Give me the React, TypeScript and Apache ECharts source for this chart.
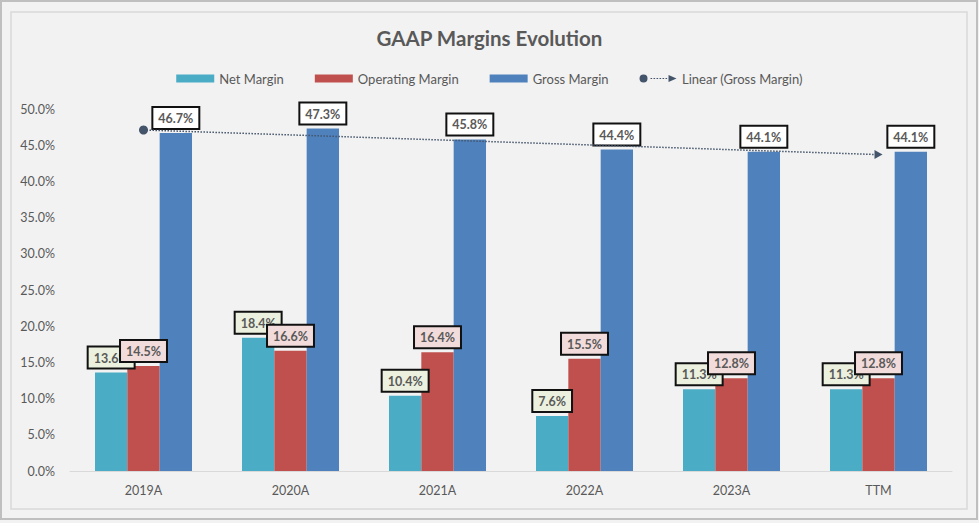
import React, { useEffect, useRef } from "react";
import * as echarts from "echarts";

const categories = ["2019A", "2020A", "2021A", "2022A", "2023A", "TTM"];
const netMargin = [13.6, 18.4, 10.4, 7.6, 11.3, 11.3];
const operatingMargin = [14.5, 16.6, 16.4, 15.5, 12.8, 12.8];
const grossMargin = [46.7, 47.3, 45.8, 44.4, 44.1, 44.1];
// Linear trend of gross margin, read at first and last category
const trendStart = 47.1;
const trendEnd = 43.7;
const yTicks = { min: 0, max: 50, interval: 5 };

const FONT = "Lato, 'Noto Sans', sans-serif";
const GREY = "#595959";

const trendIcon =
  "path://M0,4 a4,4 0 1,0 8,0 a4,4 0 1,0 -8,0 Z " +
  [11, 14, 17, 20, 23, 26].map((x) => `M${x},3.5 h1.6 v1 h-1.6 Z`).join(" ") +
  " M29,0.5 L37,4 L29,7.5 Z";

export default function App() {
  const ref = useRef<HTMLDivElement>(null);
  useEffect(() => {
    document.body.style.margin = "0";
    const chart = echarts.init(ref.current!, undefined, { renderer: "svg" });
    const label = (bg: string) => ({
      show: true,
      position: "top",
      distance: 5,
      formatter: (p: any) => Number(p.value).toFixed(1) + "%",
      fontFamily: FONT,
      fontSize: 12.5,
      fontWeight: "bold",
      color: GREY,
      backgroundColor: bg,
      borderColor: "#111",
      borderWidth: 2,
      padding: [4, 5, 3, 5],
    });
    const trendData: any[] = categories.map(() => null);
    trendData[0] = { value: trendStart, symbol: "circle", symbolSize: 9 };
    trendData[categories.length - 1] = {
      value: trendEnd,
      symbol: "triangle",
      symbolSize: [9, 8],
      symbolRotate: -90,
    };
    chart.setOption({
      animation: false,
      backgroundColor: "#F2F2F2",
      textStyle: { fontFamily: FONT },
      graphic: [
        {
          type: "rect",
          shape: { x: 1, y: 1, width: 976, height: 518 },
          style: { fill: "none", stroke: "#BFBFBF", lineWidth: 2 },
          silent: true,
        },
        {
          type: "rect",
          shape: { x: 11, y: 12, width: 956, height: 497 },
          style: { fill: "none", stroke: "#D9D9D9", lineWidth: 1.5 },
          silent: true,
        },
      ],
      title: {
        text: "GAAP Margins Evolution",
        left: "center",
        top: 22,
        textStyle: { fontFamily: FONT, fontSize: 20.5, fontWeight: "bold", color: GREY },
      },
      legend: {
        top: 67,
        left: "center",
        itemWidth: 38,
        itemHeight: 8,
        itemGap: 31,
        itemTextGap: 7,
        textStyle: { fontFamily: FONT, fontSize: 13, color: GREY },
        data: [
          { name: "Net Margin", icon: "rect" },
          { name: "Operating Margin", icon: "rect" },
          { name: "Gross Margin", icon: "rect" },
          { name: "Linear (Gross Margin)", icon: trendIcon },
        ],
      },
      grid: { left: 70, right: 27, top: 109, bottom: 52 },
      xAxis: {
        type: "category",
        data: categories,
        axisLine: { lineStyle: { color: "#D9D9D9", width: 1 } },
        axisTick: { show: false },
        axisLabel: { color: GREY, fontSize: 12.5, margin: 13, fontFamily: FONT },
      },
      yAxis: {
        type: "value",
        min: yTicks.min,
        max: yTicks.max,
        interval: yTicks.interval,
        axisLine: { show: false },
        axisTick: { show: false },
        splitLine: { show: false },
        axisLabel: {
          color: GREY,
          fontSize: 12.5,
          margin: 15,
          fontFamily: FONT,
          formatter: (v: number) => v.toFixed(1) + "%",
        },
      },
      series: [
        {
          name: "Net Margin",
          type: "bar",
          data: netMargin,
          barGap: "0%",
          barCategoryGap: "34%",
          itemStyle: { color: "#4BACC6" },
          label: label("#EBF1DE"),
        },
        {
          name: "Operating Margin",
          type: "bar",
          data: operatingMargin,
          itemStyle: { color: "#C0504D" },
          label: label("#F2DCDB"),
        },
        {
          name: "Gross Margin",
          type: "bar",
          data: grossMargin,
          itemStyle: { color: "#4F81BD" },
          label: label("#FFFFFF"),
        },
        {
          name: "Linear (Gross Margin)",
          type: "line",
          data: trendData,
          connectNulls: true,
          z: 5,
          itemStyle: { color: "#44546A" },
          lineStyle: { color: "#44546A", type: "dotted", width: 1.5 },
        },
      ],
    });
    return () => chart.dispose();
  }, []);
  return <div ref={ref} style={{ width: 979, height: 523 }} />;
}
